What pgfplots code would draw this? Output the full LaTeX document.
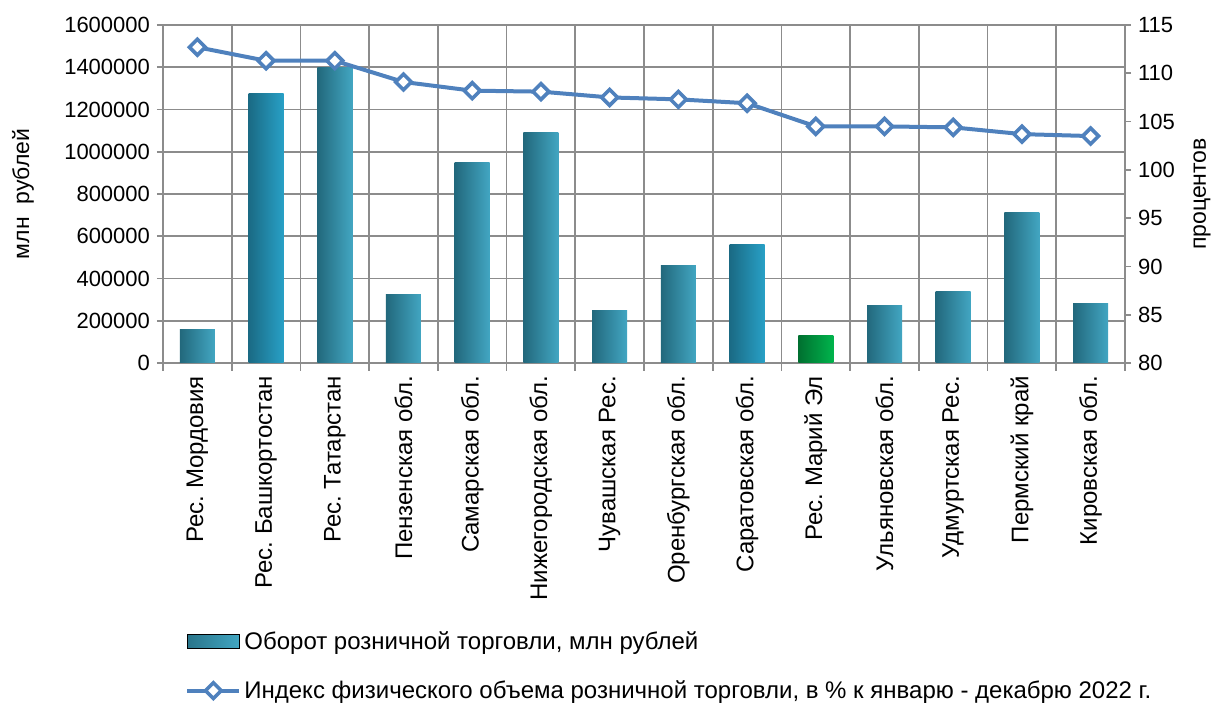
\documentclass[border=0pt]{standalone}
\usepackage{fontspec}
\setmainfont{Liberation Sans}
\usepackage{pgfplots}
\pgfplotsset{compat=1.18}
\frenchspacing

\definecolor{gridgray}{RGB}{140,140,140}
\definecolor{barDark}{RGB}{34,104,124}
\definecolor{barLight}{RGB}{66,166,194}
\definecolor{bluDark}{RGB}{26,106,132}
\definecolor{bluLight}{RGB}{40,160,198}
\definecolor{greenDark}{RGB}{0,112,48}
\definecolor{greenLight}{RGB}{0,180,76}
\definecolor{lineblue}{RGB}{79,129,189}

\pgfplotsset{
    wideline legend/.style={
        legend image code/.code={\draw[mark repeat=2,mark phase=2,##1] plot coordinates {(0pt,0pt) (13pt,0pt) (26pt,0pt)};}},
    widebar legend/.style={
        legend image code/.code={\shade[left color=barDark!80!barLight,right color=barLight] (0pt,-3.5pt) rectangle (26pt,3.5pt);}},
    tealbar/.style={ybar,bar width=17.5pt,bar shift=0pt,draw=none,left color=barDark,right color=barLight},
    bluebar/.style={ybar,bar width=17.5pt,bar shift=0pt,draw=none,left color=bluDark,right color=bluLight},
    greenbar/.style={ybar,bar width=17.5pt,bar shift=0pt,draw=none,left color=greenDark,right color=greenLight},
}

\begin{document}
\frenchspacing
\begin{tikzpicture}
\pgfplotsset{
    every axis/.append style={
        scale only axis,
        width=481pt,height=169pt,
        xmin=-0.5,xmax=13.5,
        font=\fontsize{11}{13}\selectfont,
        tick label style={/pgf/number format/assume math mode=true},
        axis line style={gridgray,line width=0.9pt},
        tick style={gridgray,line width=0.9pt},
    },
}
% bars: retail turnover, mln roubles
\begin{axis}[
    ymin=0,ymax=1600000,
    ytick={0,200000,...,1600000},
    scaled y ticks=false,
    yticklabel style={/pgf/number format/fixed,/pgf/number format/1000 sep={}},
    xtick={0,...,13},
    xticklabels={Рес. Мордовия,Рес. Башкортостан,Рес. Татарстан,Пензенская обл.,Самарская обл.,Нижегородская обл.,Чувашская Рес.,Оренбургская обл.,Саратовская обл.,Рес. Марий Эл,Ульяновская обл.,Удмуртская Рес.,Пермский край,Кировская обл.},
    xticklabel style={rotate=90,anchor=east,font=\fontsize{12}{14}\selectfont},
    minor xtick={-0.5,0.5,...,13.5},
    xminorgrids=true,ymajorgrids=true,
    grid style={gridgray,line width=0.9pt},
    major x tick style={draw=none},
    tick align=outside,
    major tick length=3pt,minor tick length=4pt,
    xtick pos=left,ytick pos=left,
    ylabel={млн\ \ рублей},
    ylabel style={at={(axis description cs:0,0.5)},anchor=center,yshift=70pt,font=\fontsize{11.5}{13}\selectfont},
]
\addplot[tealbar] coordinates {(0,160000)};
\addplot[bluebar] coordinates {(1,1275000)};
\addplot[tealbar] coordinates {(2,1400000)};
\addplot[tealbar] coordinates {(3,325000)};
\addplot[tealbar] coordinates {(4,947000)};
\addplot[tealbar] coordinates {(5,1090000)};
\addplot[tealbar] coordinates {(6,249000)};
\addplot[tealbar] coordinates {(7,462000)};
\addplot[bluebar] coordinates {(8,562000)};
\addplot[greenbar] coordinates {(9,131000)};
\addplot[tealbar] coordinates {(10,272000)};
\addplot[tealbar] coordinates {(11,339000)};
\addplot[tealbar] coordinates {(12,714000)};
\addplot[tealbar] coordinates {(13,282000)};
\end{axis}

% line: physical volume index, %
\begin{axis}[
    ymin=80,ymax=115,
    ytick={80,85,...,115},
    axis x line=none,
    axis y line*=right,
    tick align=outside,
    major tick length=3pt,
    ylabel={процентов},
    ylabel style={at={(axis description cs:1,0.5)},anchor=center,yshift=-38.5pt,font=\fontsize{11.5}{13}\selectfont},
    legend style={
        at={(axis description cs:0,0)},anchor=north west,
        xshift=8pt,yshift=-130pt,
        draw=none,fill=none,
        row sep=10pt,
        cells={anchor=west},
        nodes={inner xsep=1.5pt},
        font=\fontsize{12}{14}\selectfont,
    },
    legend cell align=left,
]
\addlegendimage{widebar legend}
\addlegendentry{Оборот розничной торговли, млн рублей}
\addplot[lineblue,line width=2pt,mark=square*,
    mark size=2.8pt,
    mark options={rotate=45,fill=white,draw=lineblue,line width=1.8pt},
    wideline legend]
    coordinates {
        (0,112.7) (1,111.3) (2,111.3) (3,109.1) (4,108.2) (5,108.1)
        (6,107.5) (7,107.3) (8,106.9) (9,104.5) (10,104.5) (11,104.4)
        (12,103.7) (13,103.5)
    };
\addlegendentry{Индекс физического объема розничной торговли, в \% к январю - декабрю 2022 г.}
\end{axis}
\pgfresetboundingbox
\path (-81.5pt,-171.5pt) rectangle (527pt,181.5pt);
\end{tikzpicture}
\end{document}
